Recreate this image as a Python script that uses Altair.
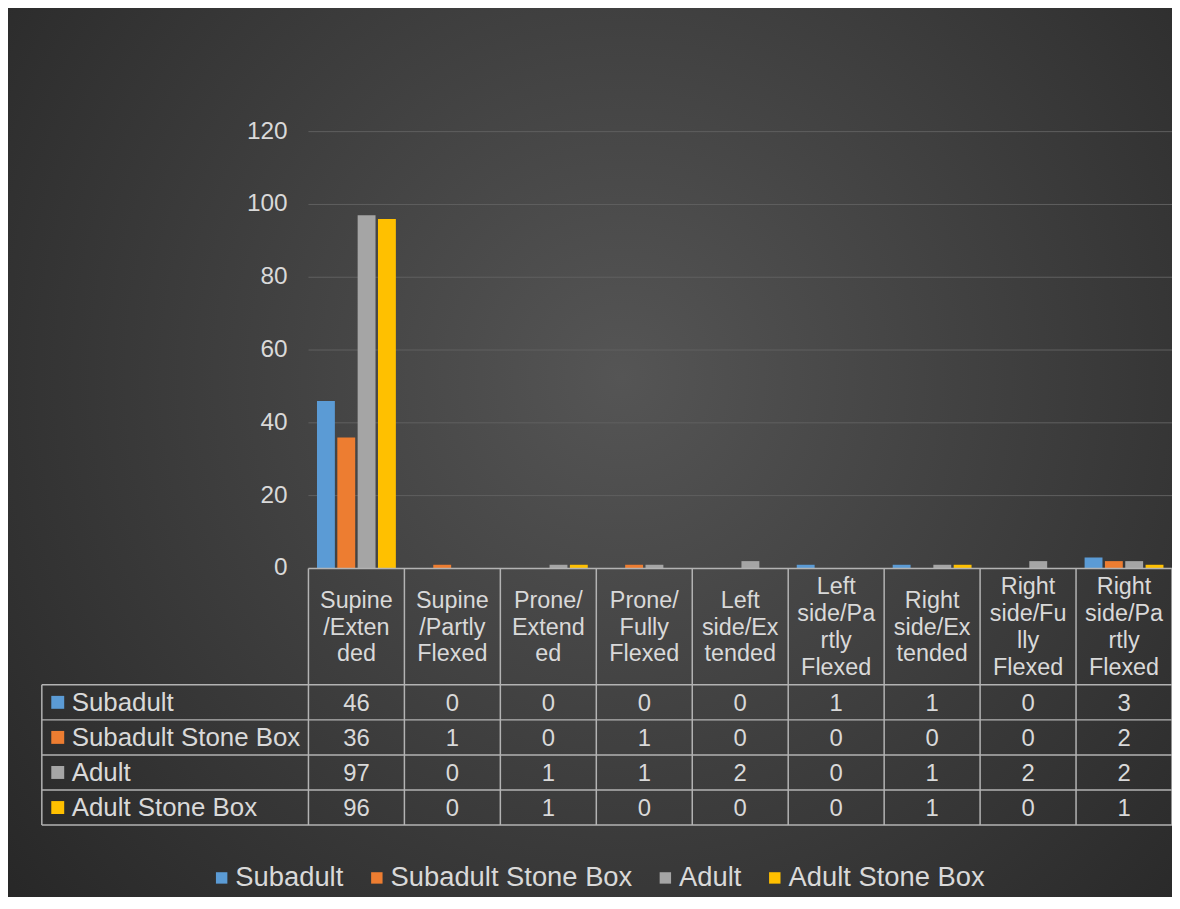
import altair as alt
import pandas as pd

# ---------------- data ----------------
categories = [
    "Supine/Extended", "Supine/Partly Flexed", "Prone/Extended", "Prone/Fully Flexed",
    "Left side/Extended", "Left side/Partly Flexed", "Right side/Extended",
    "Right side/Fully Flexed", "Right side/Partly Flexed",
]
header_labels = [
    "Supine\n/Exten\nded", "Supine\n/Partly\nFlexed", "Prone/\nExtend\ned",
    "Prone/\nFully\nFlexed", "Left\nside/Ex\ntended", "Left\nside/Pa\nrtly\nFlexed",
    "Right\nside/Ex\ntended", "Right\nside/Fu\nlly\nFlexed", "Right\nside/Pa\nrtly\nFlexed",
]
series = ["Subadult", "Subadult Stone Box", "Adult", "Adult Stone Box"]
subadult = [46, 0, 0, 0, 0, 1, 1, 0, 3]
subadult_stone_box = [36, 1, 0, 1, 0, 0, 0, 0, 2]
adult = [97, 0, 1, 1, 2, 0, 1, 2, 2]
adult_stone_box = [96, 0, 1, 0, 0, 0, 1, 0, 1]
colors = ["#5B9BD5", "#ED7D31", "#A5A5A5", "#FFC000"]
y_ticks = [0, 20, 40, 60, 80, 100, 120]

values_by_series = [subadult, subadult_stone_box, adult, adult_stone_box]
rows = []
for s, vals in zip(series, values_by_series):
    for c, v in zip(categories, vals):
        rows.append({"category": c, "series": s, "value": v})
df = pd.DataFrame(rows)
cat_df = pd.DataFrame({
    "category": categories,
    "header": header_labels,
    "nlines": [h.count("\n") + 1 for h in header_labels],
})
ser_df = pd.DataFrame({"series": series})
tick_df = pd.DataFrame({"tick": y_ticks})

# ---------------- layout ----------------
W, H = 868, 439
PAD_L, PAD_T, PAD_B = 302, 122, 328
TABLE_TOP, TABLE_BOTTOM = 556, 697
LABEL_LEFT = -268
LINE_H = 27
FONT = "Liberation Sans"
TEXT = "#d9d9d9"
LINE = "#b3b3b3"

x_scale = alt.Scale(domain=categories, paddingInner=0, paddingOuter=0)
y_scale = alt.Scale(domain=[0, 120], nice=False)
row_scale = alt.Scale(domain=series, range=[TABLE_TOP, TABLE_BOTTOM], paddingInner=0, paddingOuter=0)
color_scale = alt.Scale(domain=series, range=colors)

legend = alt.Legend(
    orient="none", legendX=-101, legendY=736, direction="horizontal", title=None,
    symbolType="square", symbolSize=132, symbolStrokeWidth=0, symbolOpacity=1,
    labelFontSize=27.5, labelColor=TEXT, labelFont=FONT, columnPadding=19, labelOffset=0,
    labelLimit=0,
)

bg = alt.Chart(pd.DataFrame({"k": [0]})).mark_rect(
    fill=alt.RadialGradient(
        gradient="radial",
        stops=[alt.GradientStop(offset=0, color="#555555"),
               alt.GradientStop(offset=1, color="#242424")],
        x1=0.52, y1=0.48, r1=0, x2=0.52, y2=0.48, r2=0.55,
    )
).encode(x=alt.value(-PAD_L), x2=alt.value(W), y=alt.value(-512), y2=alt.value(1068))

grid = alt.Chart(tick_df).mark_rule(color="#606060", strokeWidth=1).encode(
    y=alt.Y("tick:Q", scale=y_scale, axis=None),
    x=alt.value(0), x2=alt.value(W),
)

y_labels = alt.Chart(tick_df).mark_text(
    align="right", baseline="middle", fontSize=24.5, color=TEXT, font=FONT
).encode(
    y=alt.Y("tick:Q", scale=y_scale, axis=None),
    x=alt.value(-21),
    text="tick:Q",
)

bars = alt.Chart(df).mark_bar().encode(
    x=alt.X("category:N", sort=categories, scale=x_scale, axis=None),
    xOffset=alt.XOffset("series:N", sort=series,
                        scale=alt.Scale(domain=series, paddingInner=0.12, paddingOuter=0.42)),
    y=alt.Y("value:Q", scale=y_scale, axis=None),
    color=alt.Color("series:N", sort=series, scale=color_scale, legend=legend),
)

baseline = alt.Chart(tick_df[tick_df["tick"] == 0]).mark_rule(color=LINE, strokeWidth=1.5).encode(
    y=alt.Y("tick:Q", scale=y_scale, axis=None),
    x=alt.value(0), x2=alt.value(W),
)

main = alt.layer(bg, grid, y_labels, bars, baseline)

rule_kw = dict(color=LINE, strokeWidth=1.5)
vr = alt.Chart(cat_df).mark_rule(**rule_kw).encode(
    x=alt.X("category:N", sort=categories, scale=x_scale, bandPosition=0, axis=None),
    y=alt.value(H), y2=alt.value(TABLE_BOTTOM),
)
vr_end = alt.Chart(cat_df.tail(1)).mark_rule(**rule_kw).encode(
    x=alt.X("category:N", sort=categories, scale=x_scale, bandPosition=1, axis=None),
    y=alt.value(H), y2=alt.value(TABLE_BOTTOM),
)
label_border = alt.Chart(ser_df.head(1)).mark_rule(**rule_kw).encode(
    x=alt.value(LABEL_LEFT), y=alt.value(TABLE_TOP), y2=alt.value(TABLE_BOTTOM),
)
hr = alt.Chart(ser_df).mark_rule(**rule_kw).encode(
    y=alt.Y("series:N", sort=series, scale=row_scale, bandPosition=0, axis=None),
    x=alt.value(LABEL_LEFT), x2=alt.value(W),
)
hr_end = alt.Chart(ser_df.tail(1)).mark_rule(**rule_kw).encode(
    y=alt.Y("series:N", sort=series, scale=row_scale, bandPosition=1, axis=None),
    x=alt.value(LABEL_LEFT), x2=alt.value(W),
)

header_center = (H + TABLE_TOP) / 2
header_layers = []
for n in sorted(set(cat_df["nlines"])):
    header_layers.append(
        alt.Chart(cat_df[cat_df["nlines"] == n]).mark_text(
            fontSize=23.5, color=TEXT, font=FONT, baseline="middle", lineBreak="\n", lineHeight=LINE_H
        ).encode(
            x=alt.X("category:N", sort=categories, scale=x_scale, axis=None),
            y=alt.value(header_center - (n - 1) * LINE_H / 2 + 1),
            text="header:N",
        )
    )

cell_text = alt.Chart(df).mark_text(fontSize=24, color=TEXT, font=FONT, baseline="middle", dy=2).encode(
    x=alt.X("category:N", sort=categories, scale=x_scale, axis=None),
    y=alt.Y("series:N", sort=series, scale=row_scale, axis=None),
    text="value:Q",
)
row_labels = alt.Chart(ser_df).mark_text(
    align="left", baseline="middle", fontSize=26, color=TEXT, font=FONT, dy=1
).encode(
    x=alt.value(-238),
    y=alt.Y("series:N", sort=series, scale=row_scale, axis=None),
    text="series:N",
)
row_keys = alt.Chart(ser_df).mark_square(size=169, opacity=1, filled=True).encode(
    x=alt.value(-252),
    y=alt.Y("series:N", sort=series, scale=row_scale, axis=None),
    color=alt.Color("series:N", sort=series, scale=color_scale, legend=legend),
)

table = alt.layer(vr, vr_end, label_border, hr, hr_end, *header_layers, cell_text, row_labels, row_keys)

chart = (
    alt.layer(main, table)
    .resolve_scale(y="independent")
    .properties(
        width=W, height=H,
        padding={"left": PAD_L, "top": PAD_T, "right": 0, "bottom": PAD_B},
        autosize=alt.AutoSizeParams(type="none"),
    )
    .configure(background="#242424", font=FONT)
    .configure_view(stroke=None)
)

chart.save("out.html", embed_options={"renderer": "svg", "actions": False})
